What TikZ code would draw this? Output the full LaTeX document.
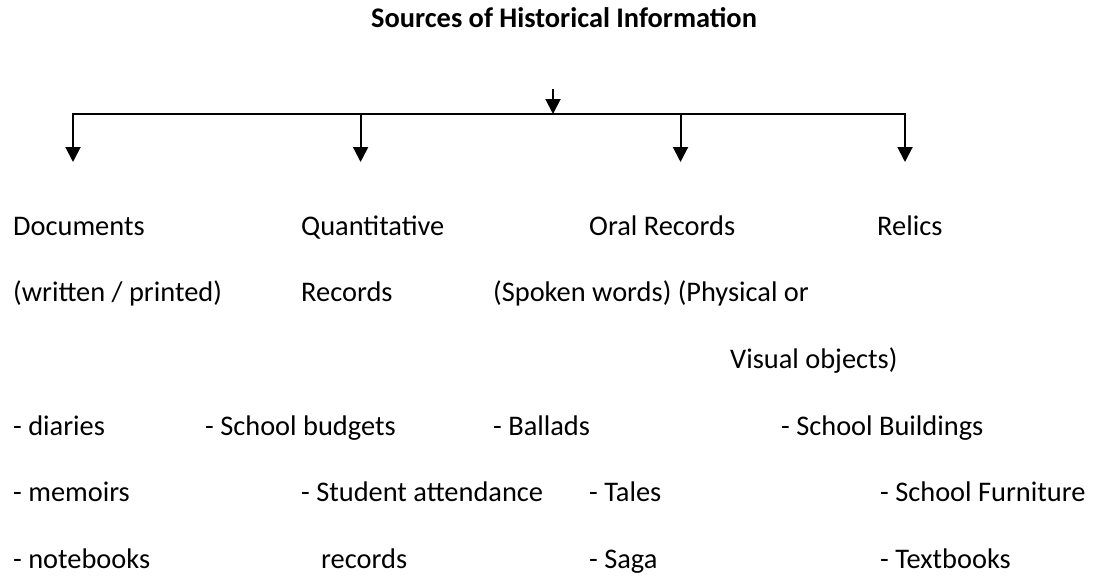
\documentclass[tikz,border=0pt]{standalone}
\usepackage{fontspec}
\setmainfont{Carlito}
\usetikzlibrary{arrows.meta}
\begin{document}
\begin{tikzpicture}[x=1pt,y=-1pt,
  lbl/.style={anchor=base west,inner sep=0pt,font=\fontsize{28.4pt}{34pt}\selectfont},
  ttl/.style={anchor=base west,inner sep=0pt,font=\fontsize{28.4pt}{34pt}\selectfont\bfseries},
  conn/.style={line width=2pt},
  tip/.tip={Triangle[width=15pt,length=15pt]},
  arr/.style={conn,-tip}]
\useasboundingbox (0,0) rectangle (1100,578);
% title
\node[ttl] (title) at (371,28) {Sources of Historical Information};
% connector points
\coordinate (top) at (553,89);
\coordinate (hub) at (553,114);
\coordinate (hl) at (73,114);
\coordinate (hr) at (905,114);
\coordinate (b2) at (360.6,114);
\coordinate (b3) at (680.5,114);
\coordinate (e1) at (73,162);
\coordinate (e2) at (360.6,162);
\coordinate (e3) at (680.5,162);
\coordinate (e4) at (905,162);
\draw[arr] (top) -- (hub);
\draw[conn,tip-tip] (e1) -- (hl) -- (hr) -- (e4);
\draw[arr] (b2) -- (e2);
\draw[arr] (b3) -- (e3);
% row 1
\node[lbl] (doc) at (13,235) {Documents};
\node[lbl] (quant) at (301,235) {Quantitative};
\node[lbl] (oral) at (589,235) {Oral Records};
\node[lbl] (relics) at (877,235) {Relics};
% row 2
\node[lbl] (docsub) at (13,301.7) {(written / printed)};
\node[lbl] (quantsub) at (301,301.7) {Records};
\node[lbl] (oralsub) at (493,301.7) {(Spoken words) (Physical or};
% row 3
\node[lbl] (relsub) at (730,368) {Visual objects)};
% row 4
\node[lbl] (d1) at (13,435) {- diaries};
\node[lbl] (q1) at (205,435) {- School budgets};
\node[lbl] (o1) at (493,435) {- Ballads};
\node[lbl] (r1) at (781,435) {- School Buildings};
% row 5
\node[lbl] (d2) at (13,501) {- memoirs};
\node[lbl] (q2) at (301,501) {- Student attendance};
\node[lbl] (o2) at (589,501) {- Tales};
\node[lbl] (r2) at (880,501) {- School Furniture};
% row 6
\node[lbl] (d3) at (13,568) {- notebooks};
\node[lbl] (q3) at (321,568) {records};
\node[lbl] (o3) at (589,568) {- Saga};
\node[lbl] (r3) at (880,568) {- Textbooks};
\end{tikzpicture}
\end{document}
